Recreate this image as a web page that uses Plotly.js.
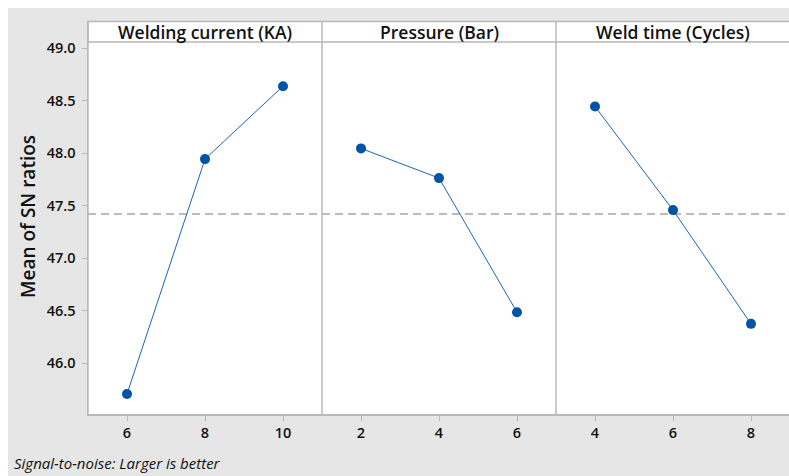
<!DOCTYPE html>
<html>
<head>
<meta charset="utf-8">
<script src="https://cdn.plot.ly/plotly-3.0.1.min.js"></script>
<style>
html,body{margin:0;padding:0;background:#ffffff;overflow:hidden;width:789px;height:476px;}
#chart{position:absolute;left:8px;top:8px;width:784px;height:468px;}
</style>
</head>
<body>
<div id="chart"></div>
<script>
// Data
const panelTitles = ["Welding current (KA)", "Pressure (Bar)", "Weld time (Cycles)"];
const currentLevels = [6, 8, 10];
const currentSN = [45.705, 47.943, 48.638];
const pressureLevels = [2, 4, 6];
const pressureSN = [48.045, 47.762, 46.484];
const weldTimeLevels = [4, 6, 8];
const weldTimeSN = [48.445, 47.457, 46.373];
const overallMeanSN = 47.42;
const yTickValues = [46.0, 46.5, 47.0, 47.5, 48.0, 48.5, 49.0];
const yTitle = "Mean of SN ratios";
const footerText = "Signal-to-noise: Larger is better";

const lineColor = "#1f64b4";
const markerColor = "#0054a6";
const frameColor = "#b8b8b8";
const textColor = "#111111";
const fontFamily = "'Open Sans', 'Noto Sans', sans-serif";

function mkTrace(x, y, xa) {
  return {
    x: x, y: y, xaxis: xa, yaxis: "y",
    type: "scatter", mode: "lines+markers",
    line: {color: lineColor, width: 1},
    marker: {color: markerColor, size: 10},
    hoverinfo: "x+y", showlegend: false
  };
}

const data = [
  mkTrace(currentLevels, currentSN, "x"),
  mkTrace(pressureLevels, pressureSN, "x2"),
  mkTrace(weldTimeLevels, weldTimeSN, "x3")
];

const hdr = 0.0551;
const tickFont = {family: fontFamily, size: 14.5, color: textColor, weight: 600};

function xaxisDef(domain, range, ticks) {
  return {
    domain: domain, range: range, tickvals: ticks, ticktext: ticks.map(String),
    showgrid: false, zeroline: false, showline: true, linecolor: frameColor, linewidth: 1.5,
    ticks: "outside", ticklen: 5, tickcolor: frameColor, tickwidth: 1,
    tickfont: tickFont,
    anchor: "y", fixedrange: true
  };
}

const headerFont = {family: fontFamily, size: 17.5, color: textColor, weight: 600};

const layout = {
  width: 784, height: 468,
  margin: {l: 80, r: 2, t: 34, b: 62, pad: 0},
  paper_bgcolor: "#e6e6e6",
  plot_bgcolor: "#ffffff",
  showlegend: false,
  xaxis: xaxisDef([0, 1/3], [5, 11], currentLevels),
  xaxis2: xaxisDef([1/3, 2/3], [1, 7], pressureLevels),
  xaxis3: xaxisDef([2/3, 1], [3, 9], weldTimeLevels),
  yaxis: {
    range: [45.514, 49.059], tickvals: yTickValues, tickformat: ".1f",
    showgrid: false, zeroline: false, showline: true, linecolor: frameColor, linewidth: 1.5,
    ticks: "outside", ticklen: 5, tickcolor: frameColor, tickwidth: 1,
    ticklabelstandoff: 3,
    tickfont: tickFont,
    anchor: "x", fixedrange: true
  },
  shapes: [
    {type: "rect", xref: "paper", yref: "paper", x0: 0, x1: 1, y0: 1, y1: 1 + hdr,
     fillcolor: "#ffffff", line: {color: frameColor, width: 1.5}, layer: "above"},
    {type: "line", xref: "paper", yref: "paper", x0: 1/3, x1: 1/3, y0: 0, y1: 1 + hdr,
     line: {color: frameColor, width: 1.5}, layer: "above"},
    {type: "line", xref: "paper", yref: "paper", x0: 2/3, x1: 2/3, y0: 0, y1: 1 + hdr,
     line: {color: frameColor, width: 1.5}, layer: "above"},
    {type: "line", xref: "paper", yref: "paper", x0: 0, x1: 0, y0: 0, y1: 1 + hdr,
     line: {color: frameColor, width: 1.5}, layer: "above"},
    {type: "line", xref: "paper", yref: "y", x0: 0, x1: 1, y0: overallMeanSN, y1: overallMeanSN,
     line: {color: "#a6a6a6", width: 1.5, dash: "8px,5px"}, layer: "below"}
  ],
  annotations: [
    {text: panelTitles[0], xref: "x domain", yref: "paper", x: 0.5, y: 1 + hdr / 2,
     xanchor: "center", yanchor: "middle", showarrow: false, font: headerFont},
    {text: panelTitles[1], xref: "x2 domain", yref: "paper", x: 0.5, y: 1 + hdr / 2,
     xanchor: "center", yanchor: "middle", showarrow: false, font: headerFont},
    {text: panelTitles[2], xref: "x3 domain", yref: "paper", x: 0.5, y: 1 + hdr / 2,
     xanchor: "center", yanchor: "middle", showarrow: false, font: headerFont},
    {text: yTitle, xref: "paper", yref: "paper", x: 0, y: 0.5296, xshift: -60,
     xanchor: "center", yanchor: "middle", textangle: -90, showarrow: false,
     font: {family: fontFamily, size: 19, color: textColor, weight: 600}},
    {text: "<i>" + footerText + "</i>", xref: "paper", yref: "paper", x: -0.108, y: -0.1317,
     xanchor: "left", yanchor: "middle", showarrow: false,
     font: {family: fontFamily, size: 15, color: textColor}}
  ]
};

Plotly.newPlot("chart", data, layout, {displayModeBar: false, staticPlot: true});
</script>
</body>
</html>
